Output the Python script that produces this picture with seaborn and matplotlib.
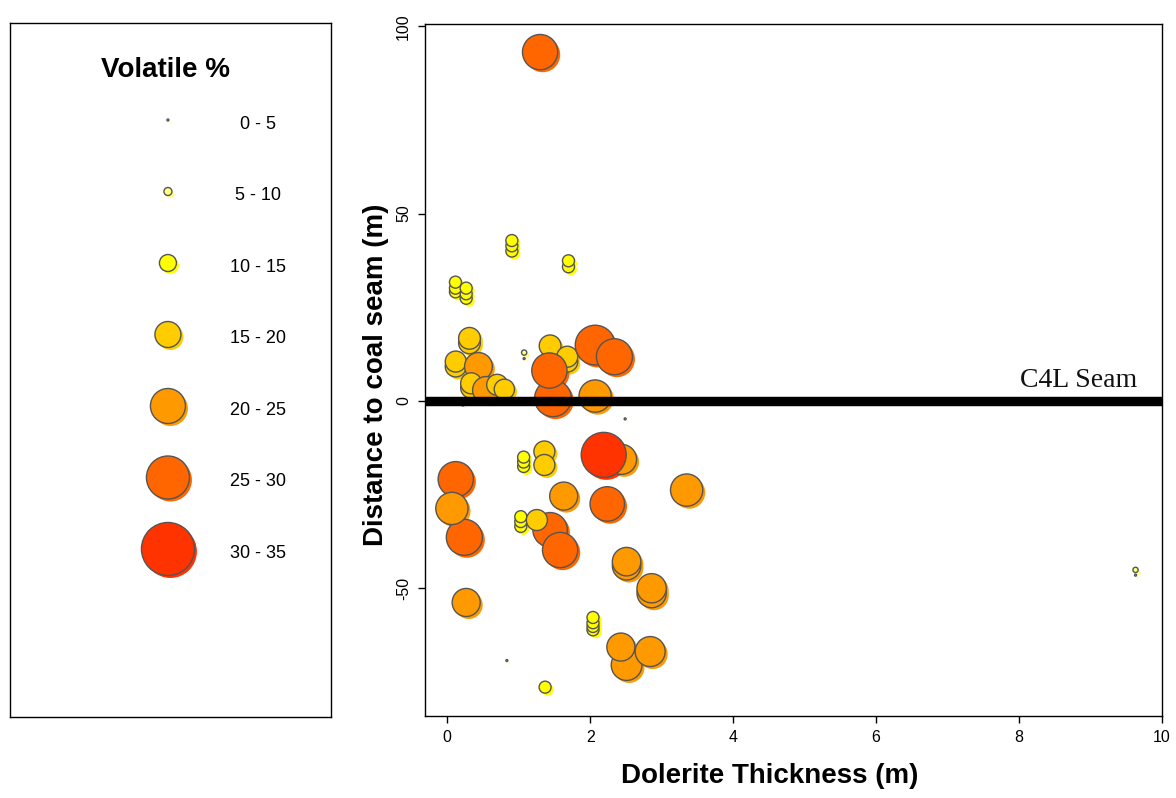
import matplotlib
matplotlib.use("Agg")
import matplotlib.pyplot as plt
import matplotlib.transforms as mtrans
import numpy as np
import pandas as pd
import seaborn as sns

# Dolerite sill thickness (m), distance of the sample to the C4L seam (m),
# and volatile matter (%) of each coal sample
thickness = [1.30,
             0.905, 0.905, 0.905,
             1.697, 1.697,
             0.116, 0.116, 0.116,
             0.266, 0.266, 0.266,
             0.312, 0.312,
             0.12, 0.12,
             0.438,
             0.336, 0.336,
             0.545, 0.70, 0.80,
             1.077, 1.077,
             1.44,
             1.68, 1.68,
             1.48, 1.43,
             2.07, 2.34, 2.07,
             2.49, 0.22,
             1.07, 1.07, 1.07,
             1.36, 1.36,
             0.12, 0.24, 0.066,
             1.63,
             1.03, 1.03, 1.03,
             1.44, 1.255, 1.58,
             2.44, 2.19,
             3.35, 2.24,
             0.266, 0.835, 1.37,
             2.51, 2.51,
             2.86, 2.86,
             2.04, 2.04, 2.04, 2.04,
             2.51, 2.43, 2.84,
             9.63, 9.63]
distance = [93.1,
            40.0, 41.4, 42.8,
            35.8, 37.4,
            29.1, 30.1, 31.7,
            27.4, 28.6, 30.1,
            15.5, 16.7,
            9.2, 10.5,
            9.2,
            3.5, 4.7,
            2.9, 4.3, 3.1,
            12.9, 11.3,
            14.7,
            10.5, 11.8,
            0.7, 8.1,
            14.9, 11.8, 1.3,
            -4.8, -1.1,
            -17.5, -16.3, -15.0,
            -13.5, -17.1,
            -20.9, -36.4, -28.7,
            -25.4,
            -33.5, -32.2, -30.9,
            -34.4, -31.8, -39.8,
            -15.6, -14.4,
            -23.8, -27.5,
            -53.8, -69.3, -76.4,
            -44.0, -42.9,
            -51.3, -50.0,
            -61.1, -60.2, -59.2, -57.8,
            -70.5, -65.7, -66.9,
            -45.1, -46.5]
volatile = [26.5,
            11, 11, 11,
            11, 11,
            11, 11, 11,
            11, 11, 11,
            17.5, 17.5,
            17, 17,
            21.5,
            17, 17,
            21, 17, 16.5,
            6.5, 2,
            17.5,
            17, 17,
            27.5, 26.5,
            29.5, 27, 24.5,
            2, 2,
            11, 11, 11,
            17, 17,
            26.5, 27, 24.5,
            21.7,
            11, 11, 11,
            26, 17, 26.5,
            23, 33,
            24.5, 26,
            21.7, 2, 11,
            22, 22,
            22.5, 22.5,
            11, 11, 11, 11,
            23.5, 21.7, 23,
            6.5, 2]

bin_edges = [0, 5, 10, 15, 20, 25, 30, 35]
bin_labels = ["0 - 5", "5 - 10", "10 - 15", "15 - 20", "20 - 25", "25 - 30", "30 - 35"]
bin_colors = ["#FFFFA0", "#FFFF80", "#FFFF00", "#FFCC00", "#FF9900", "#FF6600", "#FF3300"]
legend_diam_px = [2, 8, 17, 26, 35, 43, 53]

x_ticks = [0, 2, 4, 6, 8, 10]
y_ticks = [-50, 0, 50, 100]
seam_label = "C4L Seam"

sns.set_style("ticks")
plt.rcParams["font.family"] = ["Liberation Sans", "DejaVu Sans"]
plt.rcParams["axes.unicode_minus"] = False
plt.rcParams["text.color"] = "black"
plt.rcParams["axes.labelcolor"] = "black"
plt.rcParams["xtick.color"] = "black"
plt.rcParams["ytick.color"] = "black"

DPI = 100
fig = plt.figure(figsize=(11.76, 7.98), dpi=DPI)

df = pd.DataFrame({"thickness": thickness, "distance": distance, "volatile": volatile})
df["band"] = pd.cut(df["volatile"], bins=bin_edges, labels=bin_labels).astype(str)
palette = dict(zip(bin_labels, bin_colors))


def diam_pt(v):
    # marker diameter grows linearly with the volatile content
    return 0.72 * max(2.0, 1.5 * (v - 3.0))


size_map = {v: diam_pt(v) ** 2 for v in sorted(set(volatile))}
shadow_shift = mtrans.ScaledTranslation(2.5 / DPI, -2.5 / DPI, fig.dpi_scale_trans)

# ---------------- main scatter ----------------
ax = fig.add_axes([425 / 1176, 1 - 716 / 798, 737 / 1176, 692 / 798])

sns.scatterplot(data=df, x="thickness", y="distance", hue="band", palette=palette,
                hue_order=bin_labels, size="volatile", sizes=size_map,
                edgecolor="none", linewidth=0, legend=False, ax=ax)
ax.collections[-1].set_offset_transform(ax.transData + shadow_shift)

sns.scatterplot(data=df, x="thickness", y="distance", hue="band", palette=palette,
                hue_order=bin_labels, size="volatile", sizes=size_map,
                edgecolor="#555555", linewidth=1.0, legend=False, ax=ax)

ax.axhline(0, color="black", linewidth=6.8, zorder=5)
ax.text(9.65, 3.6, seam_label, ha="right", va="baseline", fontsize=20,
        family=["Liberation Serif", "DejaVu Serif"], color="#111111", zorder=6)

ax.set_xlim(-0.31, 10.0)
ax.set_ylim(-84.1, 100.6)
ax.set_xticks(x_ticks)
ax.set_yticks(y_ticks)
ax.set_xticklabels([str(t) for t in x_ticks])
ax.set_yticklabels([str(t) for t in y_ticks])
ax.tick_params(axis="both", direction="out", length=5, width=1, colors="black",
               labelsize=11.5, pad=5)
ax.tick_params(axis="y", labelrotation=90)
for lab in ax.get_yticklabels():
    lab.set_va("center")
for s in ax.spines.values():
    s.set_visible(True)
    s.set_color("black")
    s.set_linewidth(1.0)

ax.set_xlabel("Dolerite Thickness (m)", fontsize=20, fontweight="bold", color="black")
ax.set_ylabel("Distance to coal seam (m)", fontsize=20, fontweight="bold", color="black")
ax.xaxis.set_label_coords(0.468, -0.068)
ax.yaxis.set_label_coords(-0.049, 0.493)

# ---------------- size / colour key ----------------
lax = fig.add_axes([10 / 1176, 1 - 717 / 798, 321 / 1176, 694 / 798])
key = pd.DataFrame({"x": [0.492] * len(bin_labels),
                    "y": np.arange(len(bin_labels)),
                    "band": bin_labels})
key_sizes = {lab: (0.72 * d) ** 2 for lab, d in zip(bin_labels, legend_diam_px)}

sns.scatterplot(data=key, x="x", y="y", hue="band", palette=palette, hue_order=bin_labels,
                size="band", sizes=key_sizes, size_order=bin_labels,
                edgecolor="none", linewidth=0, legend=False, ax=lax)
lax.collections[-1].set_offset_transform(lax.transData + shadow_shift)
sns.scatterplot(data=key, x="x", y="y", hue="band", palette=palette, hue_order=bin_labels,
                size="band", sizes=key_sizes, size_order=bin_labels,
                edgecolor="#555555", linewidth=1.0, legend=False, ax=lax)

for i, lab in enumerate(bin_labels):
    lax.text(0.773, i + 0.06, lab, ha="center", va="center", fontsize=13, color="black")
lax.text(0.483, -0.70, "Volatile %", ha="center", va="center", fontsize=20,
         fontweight="bold", color="black")

lax.set_xlim(0, 1)
lax.set_ylim(8.35, -1.357)
lax.set_xticks([])
lax.set_yticks([])
lax.set_xlabel("")
lax.set_ylabel("")
for s in lax.spines.values():
    s.set_visible(True)
    s.set_color("black")
    s.set_linewidth(1.0)

fig.savefig("out.png", dpi=DPI)
